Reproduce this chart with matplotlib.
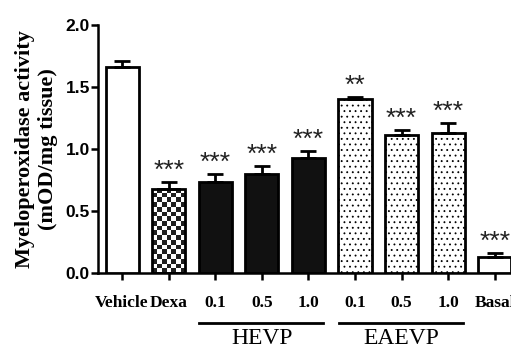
import matplotlib
matplotlib.use('Agg')
import matplotlib.pyplot as plt
from matplotlib.transforms import blended_transform_factory
import numpy as np

categories = ['Vehicle', 'Dexa', '0.1', '0.5', '1.0', '0.1', '0.5', '1.0', 'Basal']
means = [1.66, 0.68, 0.73, 0.80, 0.93, 1.40, 1.11, 1.13, 0.13]
sems = [0.05, 0.05, 0.07, 0.06, 0.05, 0.02, 0.04, 0.08, 0.03]
stars = ['', '***', '***', '***', '***', '**', '***', '***', '***']
styles = ['open', 'checker', 'solid', 'solid', 'solid', 'dots', 'dots', 'dots', 'open']
groups = [('HEVP', 2, 4), ('EAEVP', 5, 7)]

serif = 'Liberation Serif'
sans = 'Liberation Sans'

plt.rcParams['hatch.color'] = '#777777'
plt.rcParams['hatch.linewidth'] = 0.6

fig = plt.figure(figsize=(5.11, 3.47), dpi=100)
ax = fig.add_axes([0.192, 0.2133, 0.808, 0.7147])

x = np.arange(len(categories))
width = 0.71

for xi, m, s, st in zip(x, means, sems, styles):
    face = 'white'
    hatch = None
    if st == 'solid':
        face = '#111111'
    elif st == 'dots':
        hatch = '...'
    if st == 'checker':
        nx = 7
        ny = max(1, int(round(m / 2.0 * 248 / (33 / nx))))
        board = (np.indices((ny, nx)).sum(axis=0) % 2).astype(float)
        ax.imshow(board, cmap='gray_r', extent=(xi - width / 2, xi + width / 2, 0, m),
                  aspect='auto', interpolation='nearest', vmin=0, vmax=1.15, zorder=2)
        face = 'none'
    ax.bar(xi, m, width=width, color=face, edgecolor='black', linewidth=2.0,
           hatch=hatch, zorder=3)
    ax.errorbar(xi, m, yerr=[[0], [s]], fmt='none', ecolor='black',
                elinewidth=2.0, capsize=6, capthick=2.0, zorder=4)

for xi, m, s, lab in zip(x, means, sems, stars):
    if lab:
        ax.annotate(lab, (xi, m + s), xytext=(0, 3), textcoords='offset points',
                    ha='center', va='baseline', fontsize=19, family=sans,
                    color='#222222')

ax.set_xlim(-0.515, 8.35)
ax.set_ylim(0, 2.0)
ax.set_yticks([0.0, 0.5, 1.0, 1.5, 2.0])
ax.set_yticklabels(['0.0', '0.5', '1.0', '1.5', '2.0'], family=sans,
                   fontweight='bold', fontsize=12.5)
ax.set_xticks(x)
ax.set_xticklabels(categories, family=serif, fontweight='bold', fontsize=12.5)

ax.spines['top'].set_visible(False)
ax.spines['right'].set_visible(False)
ax.spines['left'].set_linewidth(1.8)
ax.spines['bottom'].set_linewidth(1.8)
ax.tick_params(axis='y', direction='out', length=5, width=1.8, pad=1)
ax.tick_params(axis='x', direction='out', length=5, width=1.8, pad=11)

ax.set_ylabel('Myeloperoxidase activity\n(mOD/mg tissue)', family=serif,
              fontweight='bold', fontsize=16, labelpad=5)

trans = blended_transform_factory(ax.transData, ax.transAxes)
for name, i0, i1 in groups:
    ax.plot([i0 - 0.35, i1 + 0.32], [-0.202, -0.202], color='black', lw=2.0,
            transform=trans, clip_on=False)
    ax.text((i0 + i1) / 2, -0.222, name, transform=trans, ha='center', va='top',
            family=serif, fontsize=17)

fig.savefig('out.png', dpi=100)
